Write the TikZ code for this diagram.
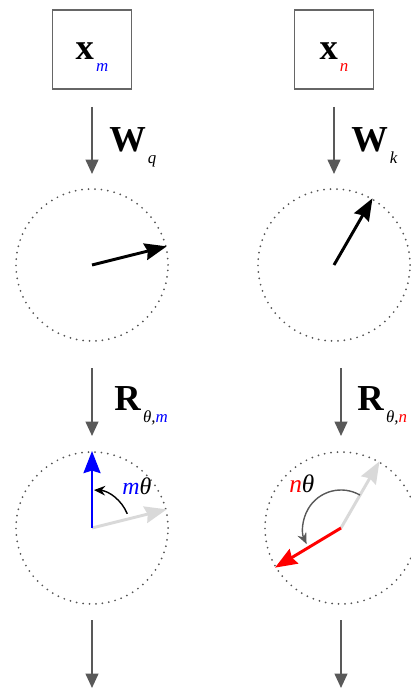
\documentclass[tikz,border=0pt]{standalone}
\usepackage{xcolor}
\usepackage{tikz}
\usepackage{fontspec}
\setmainfont{Liberation Serif}
\usetikzlibrary{arrows.meta,positioning,calc}
\definecolor{boxgray}{HTML}{666666}
\definecolor{flowgray}{HTML}{595959}
\definecolor{dotgray}{HTML}{555555}
\definecolor{ghost}{HTML}{D9D9D9}
\definecolor{vblue}{HTML}{0000FF}
\definecolor{vred}{HTML}{FF0000}
\newcommand{\biglbl}[2]{{\fontsize{26}{28}\selectfont\textbf{#1}}\kern1.5pt\raisebox{-8.5pt}{\fontsize{12}{13}\selectfont\itshape #2}}

\begin{document}
\begin{tikzpicture}[
    x=0.025cm, y=0.025cm,
    inbox/.style={draw=boxgray, line width=1.3pt, minimum size=1.975cm, inner sep=0pt, text height=0.525cm, text depth=0pt},
    ring/.style={circle, draw=dotgray, line width=1.4pt, line cap=round, dash pattern=on 0pt off 4.6pt, minimum size=3.8cm, inner sep=0pt},
    flow/.style={-{Triangle[length=0.36cm, width=0.32cm]}, line width=1.3pt, draw=flowgray},
    vec/.style={-{Stealth[length=0.55cm, width=0.42cm, inset=0.06cm]}, line width=2.1pt},
    turn/.style={-{Stealth[length=2.8mm, width=2.4mm]}, line width=1pt},
    opname/.style={anchor=base west, inner sep=0pt}
]
\useasboundingbox (0,0) rectangle (410,688);
% inputs
\node[inbox] (xm) at (92,638.5) {\biglbl{x}{\textcolor{vblue}{m}}};
\node[inbox] (xn) at (334,638.5) {\biglbl{x}{\textcolor{vred}{n}}};
% projected vectors
\node[ring] (qm) at (92,423) {};
\node[ring] (kn) at (334,423) {};
% rotated vectors
\node[ring] (rq) at (92,160) {};
\node[ring] (rk) at (341,160) {};
\coordinate (outm) at (92,0);
\coordinate (outn) at (341,0);
% flow arrows
\draw[flow, shorten <=0.425cm, shorten >=0.35cm] (xm) -- (qm);
\draw[flow, shorten <=0.425cm, shorten >=0.35cm] (xn) -- (kn);
\draw[flow, shorten <=0.65cm, shorten >=0.375cm] (qm) -- (rq);
\draw[flow, shorten <=0.65cm, shorten >=0.375cm] (rk.north |- kn.south) -- (rk);
\draw[flow, shorten <=0.375cm] (rq) -- (outm);
\draw[flow, shorten <=0.375cm] (rk) -- (outn);
\node[opname] (wq) at (109,536) {\biglbl{W}{q}};
\node[opname] (wk) at (351,536) {\biglbl{W}{k}};
\node[opname] (rm) at (114,277) {\biglbl{R}{θ,\textcolor{vblue}{m}}};
\node[opname] (rn) at (357,277) {\biglbl{R}{θ,\textcolor{vred}{n}}};
% vectors
\draw[vec] (qm.center) -- (qm.14);
\draw[vec] (kn.center) -- (kn.60);
\draw[vec, draw=ghost, fill=ghost] (rq.center) -- (rq.14);
\draw[vec, draw=vblue, fill=vblue] (rq.center) -- (rq.90);
\draw[vec, draw=ghost, fill=ghost] (rk.center) -- (rk.60);
\draw[vec, draw=vred, fill=vred] (rk.center) -- (rk.211);
% rotation angles
\draw[turn] ([shift={(22:38)}]rq.center) arc[start angle=22, end angle=87, radius=38];
\draw[turn, draw=flowgray] ([shift={(60:38)}]rk.center) arc[start angle=60, end angle=205, radius=38];
\node[opname] (mth) at (122,193) {\fontsize{17}{18}\selectfont\itshape\textcolor{vblue}{m}θ};
\node[opname] (nth) at (289,195) {\fontsize{18}{19}\selectfont\itshape\textcolor{vred}{n}θ};
\end{tikzpicture}
\end{document}
